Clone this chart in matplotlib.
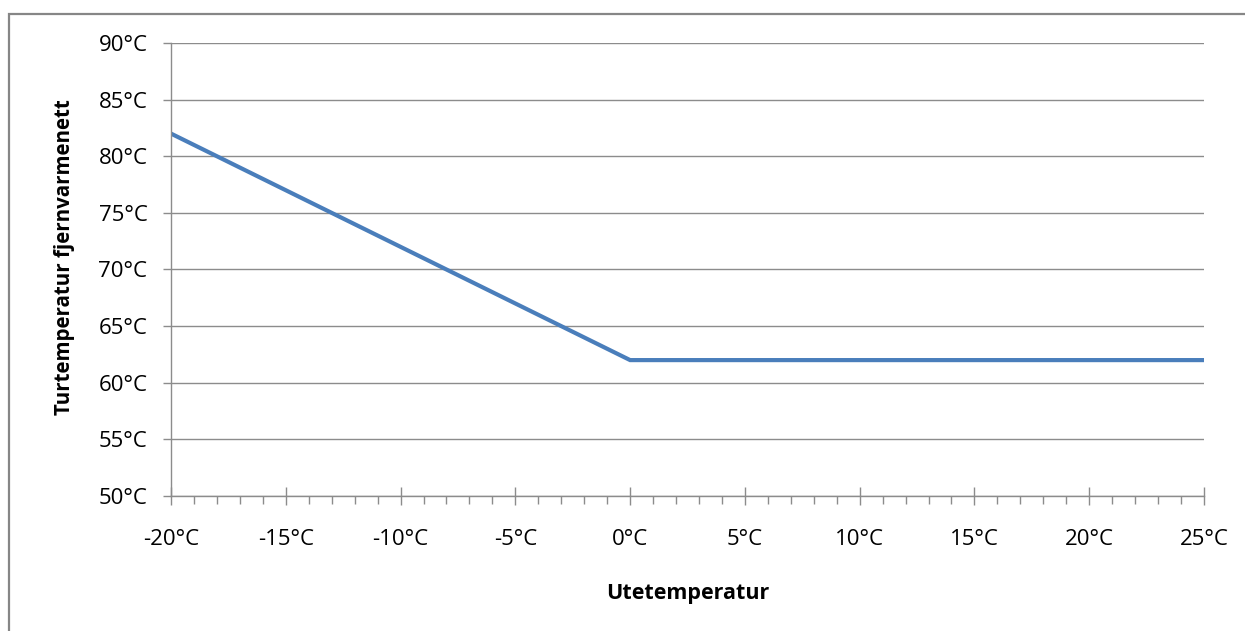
import matplotlib
matplotlib.use("Agg")
import matplotlib.pyplot as plt
from matplotlib.patches import Rectangle
from matplotlib.ticker import MultipleLocator, FuncFormatter

# Data
ute_temp = [-20, 0, 25]
tur_temp = [82, 62, 62]

plt.rcParams['font.family'] = ['Open Sans', 'DejaVu Sans']

fig = plt.figure(figsize=(12.45, 6.31), dpi=100)
ax = fig.add_axes([171 / 1245, 1 - 496 / 631, (1204 - 171) / 1245, (496 - 43) / 631])

# Outer chart border (Excel style)
fig.patches.append(Rectangle((9 / 1245, -0.1), 1.2, 1 - 14 / 631 + 0.1,
                             transform=fig.transFigure, fill=False,
                             edgecolor='#868686', linewidth=1.6))

ax.plot(ute_temp, tur_temp, color='#4A7EBB', linewidth=3.0, solid_joinstyle='miter')

ax.set_xlim(-20, 25)
ax.set_ylim(50, 90)
ax.xaxis.set_major_locator(MultipleLocator(5))
ax.xaxis.set_minor_locator(MultipleLocator(1))
ax.yaxis.set_major_locator(MultipleLocator(5))

deg = FuncFormatter(lambda v, p: f"{v:.0f}°C")
ax.xaxis.set_major_formatter(deg)
ax.yaxis.set_major_formatter(deg)

ax.grid(axis='y', color='#8c8c8c', linewidth=1.0)
ax.set_axisbelow(True)

for side in ['top', 'right']:
    ax.spines[side].set_visible(False)
for side in ['left', 'bottom']:
    ax.spines[side].set_color('#8c8c8c')
    ax.spines[side].set_linewidth(1.0)

ax.tick_params(axis='x', which='major', direction='inout', length=13, width=1.0,
               color='#8c8c8c', labelsize=16, pad=17, labelcolor='black')
ax.tick_params(axis='x', which='minor', direction='out', length=5.5, width=1.0, color='#8c8c8c')
ax.tick_params(axis='y', which='major', direction='out', length=6, width=1.0,
               color='#8c8c8c', labelsize=16, pad=11, labelcolor='black')

ax.set_xlabel('Utetemperatur', fontsize=15.5, fontweight='bold', labelpad=24)
ax.set_ylabel('Turtemperatur fjernvarmenett', fontsize=14.8, fontweight='bold')
ax.yaxis.set_label_coords(-0.093, 0.527)

fig.savefig('out.png', dpi=100)
